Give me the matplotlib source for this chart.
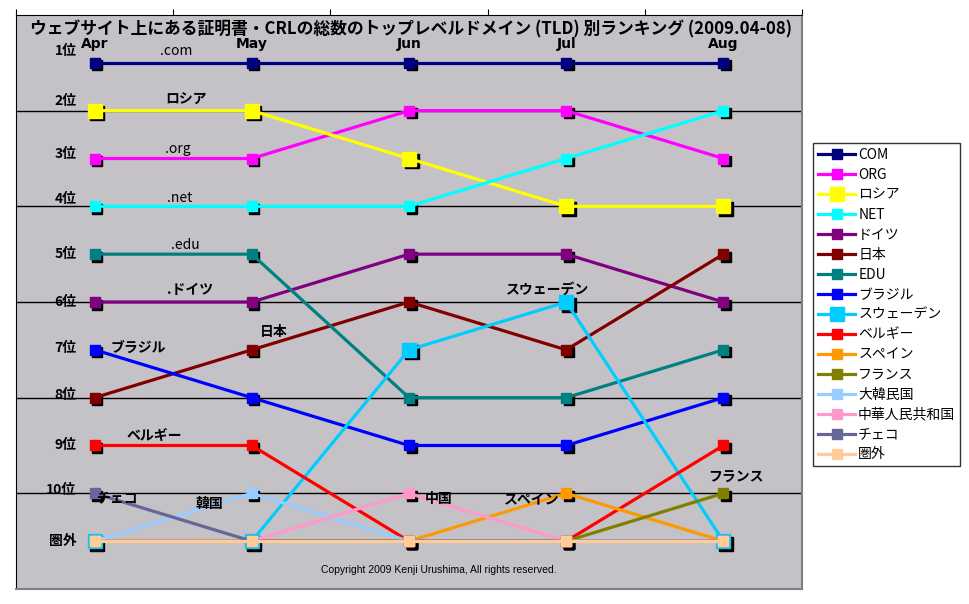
import matplotlib
matplotlib.use('Agg')
import matplotlib.pyplot as plt
from matplotlib.transforms import offset_copy

plt.rcParams['font.family'] = ['Noto Sans CJK JP', 'DejaVu Sans']

# 月と順位 (11 = 圏外)
months = ['Apr', 'May', 'Jun', 'Jul', 'Aug']
rank_labels = ['1位', '2位', '3位', '4位', '5位', '6位', '7位', '8位', '9位', '10位', '圏外']

names = ['COM', 'ORG', 'ロシア', 'NET', 'ドイツ', '日本', 'EDU', 'ブラジル',
         'スウェーデン', 'ベルギー', 'スペイン', 'フランス', '大韓民国',
         '中華人民共和国', 'チェコ', '圏外']
com = [1, 1, 1, 1, 1]
org = [3, 3, 2, 2, 3]
russia = [2, 2, 3, 4, 4]
net = [4, 4, 4, 3, 2]
germany = [6, 6, 5, 5, 6]
japan = [8, 7, 6, 7, 5]
edu = [5, 5, 8, 8, 7]
brazil = [7, 8, 9, 9, 8]
sweden = [11, 11, 7, 6, 11]
belgium = [9, 9, 11, 11, 9]
spain = [11, 11, 11, 10, 11]
france = [11, 11, 11, 11, 10]
korea = [11, 10, 11, 11, 11]
china = [11, 11, 10, 11, 11]
czech = [10, 11, 11, 11, 11]
outside = [11, 11, 11, 11, 11]
series = [com, org, russia, net, germany, japan, edu, brazil,
          sweden, belgium, spain, france, korea, china, czech, outside]

colors = ['#000080', '#FF00FF', '#FFFF00', '#00FFFF', '#800080', '#800000',
          '#008080', '#0000FF', '#00CCFF', '#FF0000', '#FF9900', '#808000',
          '#99CCFF', '#FF99CC', '#666699', '#FFCC99']
big = {'ロシア', 'スウェーデン'}

fig = plt.figure(figsize=(9.7, 6.04), dpi=100)
ax = fig.add_axes([16 / 970, 1 - 589 / 604, 786 / 970, 574 / 604])
ax.set_facecolor('#C4C2C6')

x = list(range(len(months)))
shadow = offset_copy(ax.transData, fig=fig, x=2.5, y=-2.5, units='dots')

for name, vals, c in zip(names, series, colors):
    ms = 9.5 if name in big else 7
    ax.plot(x, vals, ls='none', marker='s', ms=ms, color='black',
            transform=shadow, zorder=2)
    ax.plot(x, vals, color=c, lw=2.3, marker='s', ms=ms, mec=c, mfc=c,
            label=name, zorder=3)

ax.set_xlim(-0.5, 4.5)
ax.set_ylim(12, 0)
for r in [2, 4, 6, 8, 10]:
    ax.axhline(r, color='black', lw=1, zorder=1)

# 上の目盛り
ax.xaxis.tick_top()
ax.set_xticks([i - 0.5 for i in range(6)])
ax.set_xticklabels([])
ax.tick_params(axis='x', direction='out', length=4, color='black')
ax.set_yticks([])
ax.spines['top'].set_color('black')
ax.spines['left'].set_color('black')
ax.spines['right'].set_color('#808080')
ax.spines['bottom'].set_color('#808080')
ax.spines['right'].set_linewidth(1.5)
ax.spines['bottom'].set_linewidth(1.5)

for i, m in enumerate(months):
    ax.text(i, 0.6, m, ha='center', va='center', fontsize=10,
            fontweight='bold', family='DejaVu Sans')

# 順位ラベルの縦位置のずれ
rank_shift = [-0.25, -0.2, -0.1, -0.15, 0, 0, -0.04, -0.06, 0, -0.08, 0]
for r, (lab, dy) in enumerate(zip(rank_labels, rank_shift), start=1):
    ax.text(-0.115, r + dy, lab, ha='right', va='center', fontsize=10,
            fontweight='bold')

# 系列ラベル
notes = [
    (0.52, 0.75, '.com', 'normal'),
    (0.58, 1.75, 'ロシア', 'bold'),
    (0.53, 2.8, '.org', 'normal'),
    (0.54, 3.82, '.net', 'normal'),
    (0.58, 4.8, '.edu', 'normal'),
    (0.61, 5.75, '.ドイツ', 'bold'),
    (0.28, 6.95, 'ブラジル', 'bold'),
    (1.14, 6.62, '日本', 'bold'),
    (0.38, 8.8, 'ベルギー', 'bold'),
    (0.15, 10.1, 'チェコ', 'bold'),
    (0.73, 10.22, '韓国', 'bold'),
    (2.19, 10.12, '中国', 'bold'),
    (2.78, 10.12, 'スペイン', 'bold'),
    (2.88, 5.75, 'スウェーデン', 'bold'),
    (4.08, 9.67, 'フランス', 'bold'),
]
for nx, ny, t, w in notes:
    ax.text(nx, ny, t, ha='center', va='center', fontsize=10, fontweight=w)

ax.text(2.19, 11.6, 'Copyright 2009 Kenji Urushima, All rights reserved.',
        ha='center', va='center', fontsize=7.5, family='Liberation Sans')

fig.text(411 / 970, 1 - 29 / 604,
         'ウェブサイト上にある証明書・CRLの総数のトップレベルドメイン (TLD) 別ランキング (2009.04-08)',
         ha='center', va='center', fontsize=12.1, fontweight='bold')

leg = fig.legend(loc='upper left', bbox_to_anchor=(813 / 970, 1 - 143 / 604),
                 fontsize=10, frameon=True, fancybox=False, edgecolor='black',
                 borderaxespad=0, labelspacing=0.43, handlelength=2.7,
                 handletextpad=0.2, borderpad=0.35)
leg.get_frame().set_linewidth(1)

fig.savefig('out.png', dpi=100)
